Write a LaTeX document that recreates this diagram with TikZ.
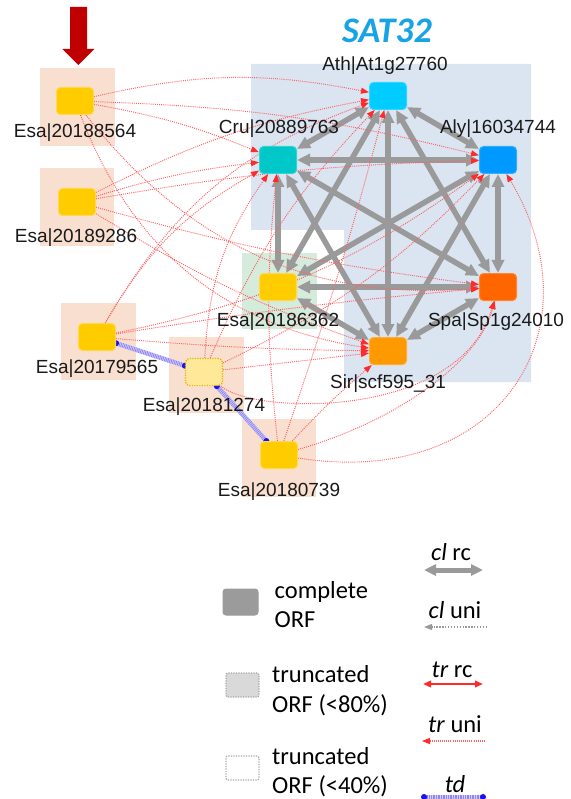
\documentclass[tikz,border=0pt]{standalone}
\usepackage{fontspec}
\setmainfont{Liberation Sans}
\newfontfamily\calfont{Carlito}
\usetikzlibrary{arrows.meta}
\pgfdeclarelayer{bg}
\pgfdeclarelayer{cl}
\pgfdeclarelayer{tr}
\pgfsetlayers{bg,cl,tr,main}

\definecolor{bgblue}{HTML}{DAE5F1}
\definecolor{bgpeach}{HTML}{F8DFD0}
\definecolor{bggreen}{HTML}{D5EBDC}
\definecolor{clgray}{HTML}{9A9A9A}
\definecolor{trred}{HTML}{FF6464}
\definecolor{tipred}{HTML}{FF2A2A}
\definecolor{esagold}{HTML}{FFCC00}
\definecolor{esaedge}{HTML}{FFD84D}
\definecolor{esapale}{HTML}{FFE898}
\definecolor{esadot}{HTML}{E8B400}
\definecolor{athcol}{HTML}{00CCFF}
\definecolor{crucol}{HTML}{00C8C8}
\definecolor{alycol}{HTML}{0099FF}
\definecolor{spacol}{HTML}{FF6600}
\definecolor{sircol}{HTML}{FF9900}
\definecolor{titleblue}{HTML}{17A3E6}
\definecolor{pointer}{HTML}{C00000}
\definecolor{labtext}{HTML}{1A1A1A}
\definecolor{tdlight}{HTML}{D6D2FA}
\definecolor{tdstripe}{HTML}{8E84F2}
\definecolor{tddotcol}{HTML}{1A10F0}
\definecolor{legrey}{HTML}{9B9B9B}
\definecolor{legpale}{HTML}{D9D9D9}
\definecolor{legedge}{HTML}{A6A6A6}

\begin{document}
\begin{tikzpicture}[x=1pt,y=-1pt,
  gene/.style={rectangle, rounded corners=4pt, minimum width=37pt, minimum height=27pt, inner sep=0pt, line width=1pt},
  lab/.style={font=\fontsize{19}{22}\selectfont, text=labtext, inner sep=0pt},
  legtext/.style={font=\calfont\fontsize{24.5}{29}\selectfont, text=black, inner sep=0pt, anchor=base west},
  legkey/.style={font=\calfont\fontsize{24.5}{29}\selectfont, text=black, inner sep=0pt, anchor=base},
  clrc/.style={draw=clgray, line width=5.5pt, {Triangle[length=13pt,width=12pt]}-{Triangle[length=13pt,width=12pt]}},
  truni/.style={draw=trred, line width=0.95pt, dash pattern=on 1pt off 1.1pt, -{Triangle[length=8pt,width=6pt,color=tipred]}},
  td/.style={draw=tdstripe, line width=4.5pt, dash pattern=on 0.8pt off 0.9pt, preaction={draw=tdlight, line width=4.5pt, solid}},
  tddot/.style={circle, fill=tddotcol, inner sep=0pt, minimum size=6pt}
]
\useasboundingbox (0,0) rectangle (570,799);

% shaded groups behind the genes
\begin{pgfonlayer}{bg}
  \fill[bgblue] (251,64) -- (531,64) -- (531,382) -- (344,382) -- (344,230) -- (251,230) -- cycle;
  \fill[bggreen] (242,253) rectangle (317,329);
  \fill[bgpeach] (40,68) rectangle (115,146);
  \fill[bgpeach] (40,168) rectangle (114,246);
  \fill[bgpeach] (61,303) rectangle (136,380);
  \fill[bgpeach] (169,337) rectangle (244,413);
  \fill[bgpeach] (242,419) rectangle (316,497);
\end{pgfonlayer}

% pointer arrow and title
\fill[pointer] (70,7) -- (87,7) -- (87,49) -- (94.3,49) -- (78.3,65) -- (62.3,49) -- (70,49) -- cycle;
\node[font=\calfont\bfseries\itshape\fontsize{36}{40}\selectfont, text=titleblue, inner sep=0pt] (title) at (387,31) {SAT32};

% genes
\node[gene, fill=esagold, draw=esaedge] (S1) at (75,101) {};
\node[gene, fill=esagold, draw=esaedge] (S2) at (77,202) {};
\node[gene, fill=esagold, draw=esaedge] (S3) at (97,337) {};
\node[gene, fill=esapale, draw=esadot, line width=1.3pt, dash pattern=on 1.2pt off 1.3pt] (S4) at (204,372) {};
\node[gene, fill=esagold, draw=esaedge] (S5) at (279,455) {};
\node[gene, fill=athcol, draw=athcol!80!white] (Ath) at (388,96) {};
\node[gene, fill=crucol, draw=crucol!80!white] (Cru) at (278,160) {};
\node[gene, fill=alycol, draw=alycol!80!white] (Aly) at (498,160) {};
\node[gene, fill=esagold, draw=esaedge] (E62) at (278,287) {};
\node[gene, fill=spacol, draw=spacol!80!white] (Spa) at (498,287) {};
\node[gene, fill=sircol, draw=sircol!80!white] (Sir) at (388,351) {};

% gene names
\node[lab] (S1l) at (75,133) {Esa|20188564};
\node[lab] (S2l) at (76,238) {Esa|20189286};
\node[lab] (S3l) at (97,369) {Esa|20179565};
\node[lab] (S4l) at (204,407) {Esa|20181274};
\node[lab] (S5l) at (279,492) {Esa|20180739};
\node[lab] (Athl) at (385,66) {Ath|At1g27760};
\node[lab] (Crul) at (279,129) {Cru|20889763};
\node[lab] (Alyl) at (498,129) {Aly|16034744};
\node[lab] (E62l) at (278,322) {Esa|20186362};
\node[lab] (Spal) at (496,322) {Spa|Sp1g24010};
\node[lab] (Sirl) at (388,384) {Sir|scf595\_31};

% collinear, reciprocal links
\begin{pgfonlayer}{cl}
  \draw[clrc] (Ath) -- (Cru);
  \draw[clrc] (Ath) -- (Aly);
  \draw[clrc] (Ath) -- (E62);
  \draw[clrc] (Ath) -- (Spa);
  \draw[clrc] (Ath) -- (Sir);
  \draw[clrc] (Cru) -- (Aly);
  \draw[clrc] (Cru) -- (E62);
  \draw[clrc] (Cru) -- (Spa);
  \draw[clrc] (Cru) -- (Sir);
  \draw[clrc] (Aly) -- (E62);
  \draw[clrc] (Aly) -- (Spa);
  \draw[clrc] (Aly) -- (Sir);
  \draw[clrc] (E62) -- (Spa);
  \draw[clrc] (E62) -- (Sir);
  \draw[clrc] (Spa) -- (Sir);
\end{pgfonlayer}

% transposed, unidirectional links
\begin{pgfonlayer}{tr}
  \draw[truni] (S1) to[bend left=12] (Ath);
  \draw[truni] (S1) to[bend left=6] (Cru);
  \draw[truni] (S1) to[bend left=6] (Aly);
  \draw[truni] (S1) to[bend right=28] (Spa);
  \draw[truni] (S1) to[bend right=30] (Sir);

  \draw[truni] (S2) to[bend left=8] (Ath);
  \draw[truni] (S2) to[bend left=5] (Cru);
  \draw[truni] (S2) to[bend left=4] (Aly);
  \draw[truni] (S2) to[bend right=4] (Spa);
  \draw[truni] (S2) to[bend right=6] (Sir);

  \draw[truni] (S3) to[bend left=20] (Ath);
  \draw[truni] (S3) to[bend left=15] (Cru);
  \draw[truni] (S3) to[bend right=12] (Aly);
  \draw[truni] (S3) to[bend left=2] (Spa);
  \draw[truni] (S3) to[bend right=2] (Sir);

  \draw[truni] (S4) to[bend left=10] (Ath);
  \draw[truni] (S4) to[bend left=16] (Cru);
  \draw[truni] (S4) to[bend right=10] (Aly);
  \draw[truni] (S4) -- (Sir);
  \draw[truni] (S4) .. controls (255,415) and (460,420) .. (Spa);

  \draw[truni] (S5) to[bend right=2] (Ath);
  \draw[truni] (S5) to[bend left=6] (Cru);
  \draw[truni] (S5) to[bend left=3] (Sir);
  \draw[truni] (S5) .. controls (400,420) and (480,360) .. (Spa);
  \draw[truni] (S5) .. controls (500,490) and (600,330) .. (Aly);

  % tandem duplications
  \draw[td] (S3) -- node[tddot, pos=0] (d1) {} node[tddot, pos=1] (d2) {} (S4);
  \draw[td] (S4) -- node[tddot, pos=0] (d3) {} node[tddot, pos=1] (d4) {} (S5);
\end{pgfonlayer}

% legend: ORF completeness
\node[gene, fill=legrey, draw=legrey, minimum width=35pt, minimum height=26pt, rounded corners=3pt] (k1) at (240.5,602) {};
\node[gene, fill=legpale, draw=legedge, line width=1.3pt, dash pattern=on 1.2pt off 1.3pt, minimum width=33pt, minimum height=24pt, rounded corners=2pt] (k2) at (242.5,685) {};
\node[gene, fill=white, draw=legedge, line width=1.3pt, dash pattern=on 1.2pt off 1.3pt, minimum width=33pt, minimum height=24pt, rounded corners=2pt] (k3) at (242.5,768) {};
\node[legtext] (k1a) at (274.5,598) {complete};
\node[legtext] (k1b) at (274.5,627) {ORF};
\node[legtext] (k2a) at (272,682) {truncated};
\node[legtext] (k2b) at (272,712) {ORF (<80\%)};
\node[legtext] (k3a) at (272,764) {truncated};
\node[legtext] (k3b) at (272,793) {ORF (<40\%)};

% legend: link types
\node[legkey] (e1) at (451,560) {\textit{cl} rc};
\coordinate (e1a) at (424,570);
\coordinate (e1b) at (483,570);
\draw[draw=clgray, line width=5pt, {Triangle[length=12pt,width=11pt]}-{Triangle[length=12pt,width=11pt]}] (e1a) -- (e1b);

\node[legkey] (e2) at (455,618) {\textit{cl} uni};
\coordinate (e2a) at (487,627);
\coordinate (e2b) at (424,627);
\draw[draw=clgray, line width=1.3pt, dash pattern=on 1.3pt off 1.6pt, -{Triangle[length=8pt,width=6pt]}] (e2a) -- (e2b);

\node[legkey] (e3) at (452,677) {\textit{tr} rc};
\coordinate (e3a) at (423,684);
\coordinate (e3b) at (483,684);
\draw[draw=tipred, line width=2.2pt, {Triangle[length=8pt,width=6.5pt]}-{Triangle[length=8pt,width=6.5pt]}] (e3a) -- (e3b);

\node[legkey] (e4) at (455,732) {\textit{tr} uni};
\coordinate (e4a) at (485,741);
\coordinate (e4b) at (422,741);
\draw[truni, line width=1.1pt, -{Triangle[length=8pt,width=6pt,color=tipred]}] (e4a) -- (e4b);

\node[legkey] (e5) at (455,792) {\textit{td}};
\coordinate (e5a) at (424,797);
\coordinate (e5b) at (483,797);
\draw[td] (e5a) -- node[tddot, pos=0] (d5) {} node[tddot, pos=1] (d6) {} (e5b);
\end{tikzpicture}
\end{document}
